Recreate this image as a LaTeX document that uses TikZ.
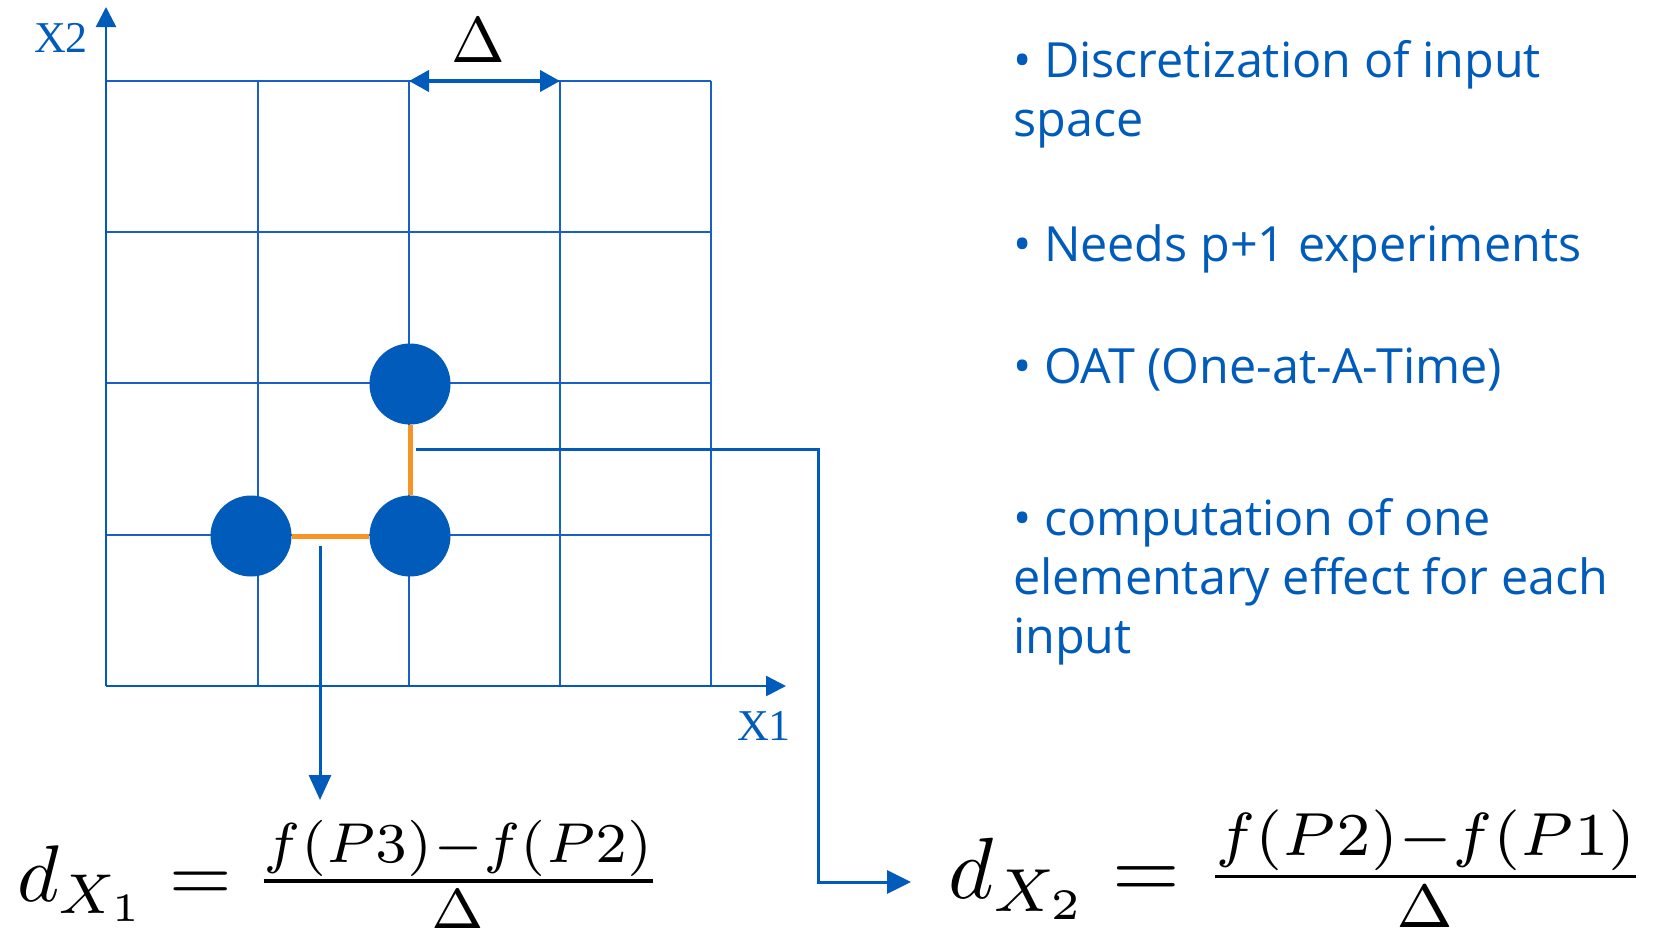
\documentclass[tikz,border=0pt]{standalone}
\usepackage{fontspec}
\setmainfont{Liberation Serif}
\newfontfamily\bulletfont{Open Sans}
\usetikzlibrary{arrows.meta}
\definecolor{pblue}{RGB}{0,91,187}
\definecolor{gblue}{RGB}{25,95,200}
\definecolor{porange}{RGB}{247,148,40}
\tikzset{
  gridline/.style={draw=gblue, line width=2pt},
  axisline/.style={draw=pblue, line width=2.5pt, -{Triangle[length=20pt,width=20pt]}},
  conn/.style={draw=pblue, line width=3pt},
  dot/.style={circle, fill=pblue, minimum size=81pt, inner sep=0pt},
  orangeline/.style={draw=porange, line width=5pt},
  axlabel/.style={text=pblue, font=\fontsize{44}{44}\selectfont, inner sep=0pt},
  bullettext/.style={text=pblue, font=\bulletfont\fontsize{48.5}{59}\selectfont, align=left, anchor=base west, inner sep=0pt},
  formula/.style={anchor=base west, inner sep=0pt},
}
\begin{document}
\begin{tikzpicture}[x=1pt,y=-1pt]
\useasboundingbox (0,0) rectangle (1667,938);
% grid
\foreach \x in {258,409,560,711} \draw[gridline] (\x,81) -- (\x,686);
\foreach \y in {81,232,383,535} \draw[gridline] (106,\y) -- (711,\y);
% axes
\draw[axisline] (106,686) -- (106,7);
\draw[axisline] (106,686) -- (786,686);
\node[axlabel] (x2) at (61,38) {X2};
\node[axlabel] (x1) at (764,726) {X1};
% delta arrow
\draw[draw=pblue, line width=4pt, {Triangle[length=20pt,width=21pt]}-{Triangle[length=20pt,width=21pt]}] (409,81) -- (560,81);
\node[inner sep=0pt] (dl) at (478,40) {\resizebox{!}{44pt}{$\Delta$}};
% points
\node[dot] (p1) at (251,536) {};
\node[dot] (p2) at (410,536) {};
\node[dot] (p3) at (410,384) {};
\draw[orangeline] (p1) -- (p2);
\draw[orangeline] (p2) -- (p3);
% connectors
\coordinate (c1s) at (320,546);
\coordinate (c1e) at (320,800);
\draw[conn, -{Triangle[length=25pt,width=22pt]}] (c1s) -- (c1e);
\coordinate (c2s) at (416,449);
\coordinate (c2m) at (818,882);
\coordinate (c2e) at (911,882);
\draw[conn, -{Triangle[length=24pt,width=23pt]}] (c2s) -| (c2m) -- (c2e);
% formulas
\node[formula] (f1) at (17,901) {\resizebox{645pt}{!}{$d_{X_1} = \frac{f(P3)-f(P2)}{\Delta}$}};
\node[formula] (f2) at (948,898) {\resizebox{698pt}{!}{$d_{X_2} = \frac{f(P2)-f(P1)}{\Delta}$}};
% bullet text
\node[bullettext] (b1) at (1013,136) {\textbullet{} Discretization of input\\space};
\node[bullettext] (b2) at (1013,261) {\textbullet{} Needs p+1 experiments};
\node[bullettext] (b3) at (1013,383) {\textbullet{} OAT (One-at-A-Time)};
\node[bullettext] (b4) at (1013,653) {\textbullet{} computation of one\\elementary effect for each\\input};
\end{tikzpicture}
\end{document}
